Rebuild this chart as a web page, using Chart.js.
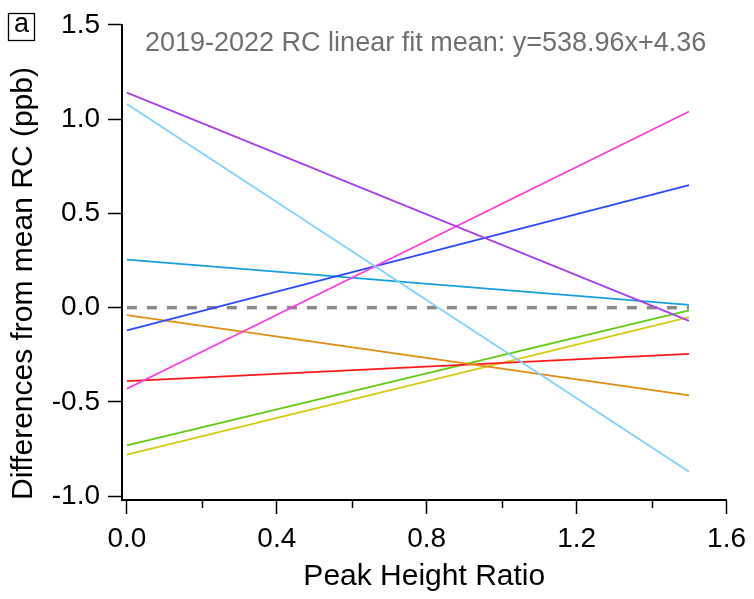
<!DOCTYPE html>
<html>
<head>
<meta charset="utf-8">
<script src="https://cdn.jsdelivr.net/npm/chart.js@4.4.1/dist/chart.umd.min.js"></script>
<style>
  body { margin: 0; background: #fff; }
  canvas { display: block; }
</style>
</head>
<body>
<canvas id="fit-chart" width="754" height="599"></canvas>
<script>
// linear fits: value at x = 0 and x = 1.5
const fitX = [0, 1.5];
const purpleFit = [1.14, -0.07];
const skyFit = [1.08, -0.87];
const magentaFit = [-0.43, 1.04];
const blueFit = [-0.12, 0.65];
const cyanFit = [0.255, 0.015];
const orangeFit = [-0.04, -0.465];
const redFit = [-0.39, -0.245];
const greenFit = [-0.73, -0.015];
const yellowFit = [-0.78, -0.05];
const zeroLine = [0, 0];

const xTicks = [0, 0.4, 0.8, 1.2, 1.6];
const xMinorTicks = [0.2, 0.6, 1.0, 1.4];
const yTicks = [-1.0, -0.5, 0.0, 0.5, 1.0, 1.5];

const fitText = "2019-2022 RC linear fit mean: y=538.96x+4.36";
const panelLabel = "a";

const FONT = "'Liberation Sans', Arial, Helvetica, sans-serif";

function pts(vals) {
  return vals.map((v, i) => ({ x: fitX[i], y: v }));
}

function fitLine(vals, color) {
  return {
    data: pts(vals),
    borderColor: color,
    borderWidth: 1.8,
    pointRadius: 0,
    fill: false
  };
}

const datasets = [
  fitLine(purpleFit, "#a93ff0"),
  fitLine(skyFit, "#80d2ff"),
  fitLine(magentaFit, "#ff3ade"),
  fitLine(blueFit, "#2a4bff"),
  fitLine(cyanFit, "#18a0e0"),
  fitLine(orangeFit, "#de9012"),
  fitLine(redFit, "#ff1a1a"),
  fitLine(greenFit, "#62cc12"),
  fitLine(yellowFit, "#d6cc14"),
  {
    data: pts(zeroLine),
    borderColor: "#8a8a8a",
    borderWidth: 3.5,
    borderDash: [10, 10],
    pointRadius: 0,
    fill: false
  }
];

// minor x ticks, panel label and the fit text
const extras = {
  id: "extras",
  afterDraw(chart) {
    const ctx = chart.ctx;
    const xs = chart.scales.x;
    ctx.save();
    ctx.strokeStyle = "#000";
    ctx.lineWidth = 1.5;
    xMinorTicks.forEach(v => {
      const px = Math.round(xs.getPixelForValue(v)) + 0.5;
      ctx.beginPath();
      ctx.moveTo(px, xs.top);
      ctx.lineTo(px, xs.top + 8);
      ctx.stroke();
    });

    ctx.lineWidth = 1.3;
    ctx.strokeRect(8.5, 13.5, 26, 27);
    ctx.fillStyle = "#000";
    ctx.font = "27px " + FONT;
    ctx.textAlign = "center";
    ctx.textBaseline = "middle";
    ctx.fillText(panelLabel, 21.5, 25);

    ctx.fillStyle = "#707070";
    ctx.font = "27px " + FONT;
    ctx.textAlign = "left";
    ctx.fillText(fitText, 145, 44);
    ctx.restore();
  }
};

new Chart(document.getElementById("fit-chart"), {
  type: "line",
  data: { datasets: datasets },
  plugins: [extras],
  options: {
    responsive: false,
    animation: false,
    layout: { padding: { left: 0, right: 25, top: 24, bottom: 0 } },
    plugins: { legend: { display: false }, tooltip: { enabled: false } },
    scales: {
      x: {
        type: "linear",
        min: -0.013,
        max: 1.6,
        afterBuildTicks: s => { s.ticks = xTicks.map(v => ({ value: v })); },
        afterFit: s => { s.height = 99; },
        grid: { drawOnChartArea: false, drawTicks: true, tickLength: 14, tickColor: "#000", tickWidth: 1.5 },
        border: { display: true, color: "#000", width: 2 },
        ticks: {
          color: "#000",
          padding: 8,
          maxRotation: 0,
          font: { family: FONT, size: 28 },
          callback: v => v.toFixed(1)
        },
        title: {
          display: true,
          text: "Peak Height Ratio",
          color: "#000",
          font: { family: FONT, size: 30 },
          padding: { top: 0, bottom: 4 }
        }
      },
      y: {
        type: "linear",
        min: -1.02,
        max: 1.5,
        afterBuildTicks: s => { s.ticks = yTicks.map(v => ({ value: v })); },
        afterFit: s => { s.width = 122; },
        grid: { drawOnChartArea: false, drawTicks: true, tickLength: 14, tickColor: "#000", tickWidth: 1.5 },
        border: { display: true, color: "#000", width: 2 },
        ticks: {
          color: "#000",
          padding: 8,
          font: { family: FONT, size: 28 },
          callback: v => v.toFixed(1)
        },
        title: {
          display: true,
          text: "Differences from mean RC (ppb)",
          align: "start",
          color: "#000",
          font: { family: FONT, size: 30 },
          padding: { top: 6, bottom: 0 }
        }
      }
    }
  }
});
</script>
</body>
</html>
